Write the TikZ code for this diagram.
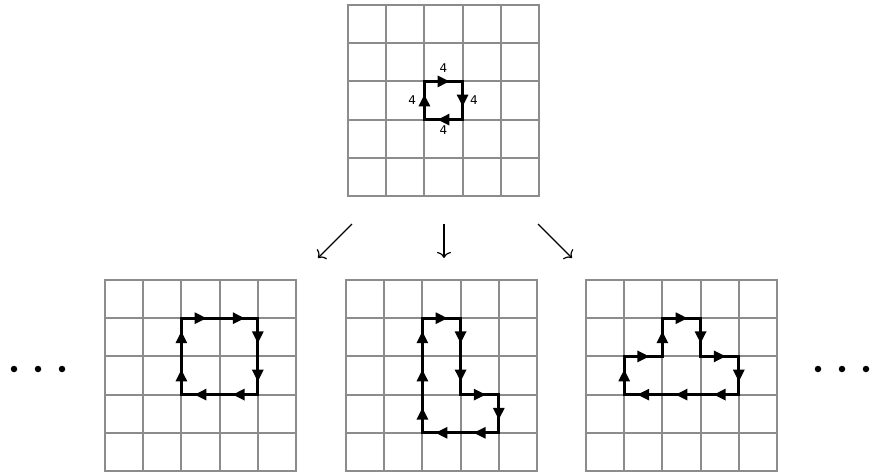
\documentclass[tikz,border=0pt]{standalone}
\usepackage{fontspec}
\setmainfont{DejaVu Sans}
\usetikzlibrary{arrows.meta,decorations.markings}
\definecolor{gridgray}{gray}{0.55}
\tikzset{
  gridline/.style={gridgray, line width=2pt, line cap=rect},
  loopedge/.style={line width=2.8pt, line cap=rect, postaction={decorate},
    decoration={markings, mark=at position 0.66 with {\arrow{Triangle[length=12pt,width=11pt]}}}},
  lbl/.style={font=\fontsize{12}{14}\selectfont, inner sep=0pt},
  dot/.style={circle, fill, inner sep=0pt, minimum size=6.5pt},
  down/.style={-{To[length=6pt,width=14pt]}, line width=1.2pt}
}
\newcommand{\cellgrid}{\foreach \i in {0,...,5} {
    \draw[gridline] (\i,0) -- (\i,5);
    \draw[gridline] (0,\i) -- (5,\i);}}
\begin{document}
\begin{tikzpicture}[x=1pt, y=-1pt]
  \useasboundingbox (0,0) rectangle (870,472);
  \begin{scope}[shift={(348,5)}, x=38.2pt, y=-38.2pt]
    \cellgrid
    \foreach \ax/\ay/\bx/\by in {2/2/3/2, 3/2/3/3, 3/3/2/3, 2/3/2/2}
      \draw[loopedge] (\ax,\ay) -- (\bx,\by);
    \node[lbl] (ltop) at (2.5,1.66) {4};
    \node[lbl] (lright) at (3.3,2.5) {4};
    \node[lbl] (lbot) at (2.5,3.27) {4};
    \node[lbl] (lleft) at (1.68,2.5) {4};
  \end{scope}
  \begin{scope}[shift={(105,280)}, x=38.2pt, y=-38.2pt]
    \cellgrid
    \foreach \ax/\ay/\bx/\by in {2/1/3/1, 3/1/4/1, 4/1/4/2, 4/2/4/3, 4/3/3/3, 3/3/2/3, 2/3/2/2, 2/2/2/1}
      \draw[loopedge] (\ax,\ay) -- (\bx,\by);
  \end{scope}
  \begin{scope}[shift={(346,280)}, x=38.2pt, y=-38.2pt]
    \cellgrid
    \foreach \ax/\ay/\bx/\by in {2/1/3/1, 3/1/3/2, 3/2/3/3, 3/3/4/3, 4/3/4/4, 4/4/3/4, 3/4/2/4, 2/4/2/3, 2/3/2/2, 2/2/2/1}
      \draw[loopedge] (\ax,\ay) -- (\bx,\by);
  \end{scope}
  \begin{scope}[shift={(586,280)}, x=38.2pt, y=-38.2pt]
    \cellgrid
    \foreach \ax/\ay/\bx/\by in {1/2/2/2, 2/2/2/1, 2/1/3/1, 3/1/3/2, 3/2/4/2, 4/2/4/3, 4/3/3/3, 3/3/2/3, 2/3/1/3, 1/3/1/2}
      \draw[loopedge] (\ax,\ay) -- (\bx,\by);
  \end{scope}
  \coordinate (la) at (352,224);
  \coordinate (lb) at (318,258);
  \coordinate (ma) at (444,224);
  \coordinate (mb) at (444,258);
  \coordinate (ra) at (538,224);
  \coordinate (rb) at (572,258);
  \draw[down] (la) -- (lb);
  \draw[down] (ma) -- (mb);
  \draw[down] (ra) -- (rb);
  \foreach \x [count=\k] in {14,38,62}
    \node[dot] (dl\k) at (\x,369) {};
  \foreach \x [count=\k] in {818,842,866}
    \node[dot] (dr\k) at (\x,369) {};
\end{tikzpicture}
\end{document}
